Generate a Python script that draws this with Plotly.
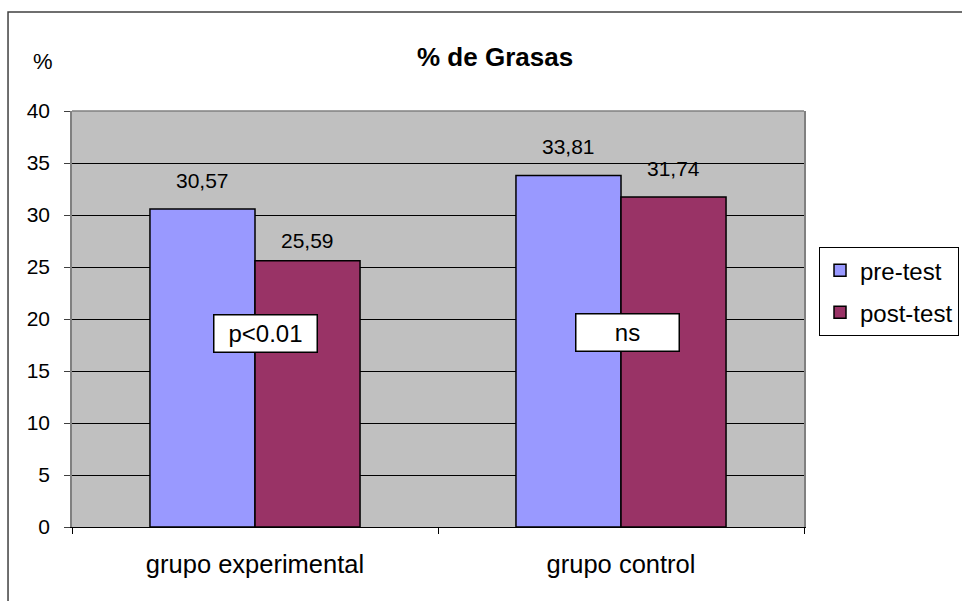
import plotly.graph_objects as go

categories = ["grupo experimental", "grupo control"]
pre_test = [30.57, 33.81]
post_test = [25.59, 31.74]
series_names = ["pre-test", "post-test"]
sig_labels = ["p<0.01", "ns"]
y_ticks = [0, 5, 10, 15, 20, 25, 30, 35, 40]

FONT = "Liberation Sans, Arial, sans-serif"
BARGAP = 0.426
bw = (1 - BARGAP) / 2
label_shift = [[15, 7], [15, 15]]  # pixel offsets of value labels (pre, post)

fig = go.Figure()
fig.add_trace(go.Bar(x=categories, y=pre_test, name=series_names[0],
                     marker=dict(color="#9999FF", line=dict(color="black", width=1.5))))
fig.add_trace(go.Bar(x=categories, y=post_test, name=series_names[1],
                     marker=dict(color="#993366", line=dict(color="black", width=1.5))))

annotations = []
for i in range(len(categories)):
    for j, (off, vals) in enumerate(((-bw / 2, pre_test), (bw / 2, post_test))):
        annotations.append(dict(x=i + off, y=vals[i], xref="x", yref="y",
                                text=f"{vals[i]:.2f}".replace(".", ","),
                                showarrow=False, xanchor="center", yanchor="bottom",
                                yshift=label_shift[i][j],
                                font=dict(family=FONT, size=21, color="black")))
sig_x = [0.03, 1.018]
sig_y = [18.65, 18.7]
for i, s in enumerate(sig_labels):
    annotations.append(dict(x=sig_x[i], y=sig_y[i], xref="x", yref="y", text=s,
                            showarrow=False, xanchor="center", yanchor="middle",
                            bgcolor="white", bordercolor="black",
                            borderwidth=1.5, width=100, height=34, borderpad=1,
                            font=dict(family=FONT, size=24, color="black")))
annotations.append(dict(x=0.578, y=1.13, xref="paper", yref="paper", text="<b>% de Grasas</b>",
                        showarrow=False, xanchor="center", yanchor="middle",
                        font=dict(family=FONT, size=26, color="black")))
annotations.append(dict(x=-0.0396, y=1.118, xref="paper", yref="paper", text="%",
                        showarrow=False, xanchor="center", yanchor="middle",
                        font=dict(family=FONT, size=22, color="black")))

fig.update_layout(
    width=962, height=601, autosize=False,
    margin=dict(l=72, r=158, t=111, b=74, pad=0, autoexpand=False),
    paper_bgcolor="white", plot_bgcolor="#C0C0C0",
    bargap=BARGAP, bargroupgap=0, barmode="group",
    font=dict(family=FONT, color="black"),
    annotations=annotations,
    legend=dict(x=1.0205, y=0.673, xanchor="left", yanchor="top",
                bordercolor="black", borderwidth=1, bgcolor="white",
                font=dict(family=FONT, size=24, color="black"),
                tracegroupgap=8, itemwidth=30),
    shapes=[
        dict(type="rect", xref="paper", yref="paper", x0=-0.0874, x1=1.25, y0=-0.3, y1=1.238,
             line=dict(color="#404040", width=1.5), layer="above"),
        dict(type="line", xref="paper", yref="paper", x0=0, x1=1, y0=1, y1=1,
             line=dict(color="#808080", width=1.5), layer="above"),
    ],
)
fig.update_xaxes(type="category", tickson="boundaries", ticks="outside", ticklen=6,
                 tickcolor="black", showline=True, linecolor="black", linewidth=1,
                 tickfont=dict(family=FONT, size=25.5, color="black"), showgrid=False,
                 ticklabelstandoff=14)
fig.update_yaxes(range=[0, 40], tickvals=y_ticks, ticks="outside", ticklen=6,
                 tickcolor="#404040", showline=True, linecolor="#808080", linewidth=1.5,
                 mirror=True, showgrid=True, gridcolor="black", gridwidth=1,
                 zeroline=False, tickfont=dict(family=FONT, size=21, color="black"),
                 ticklabelstandoff=10)
for i, tr in enumerate(fig.data):
    tr.legendgroup = f"g{i}"

fig.write_html("out.html", config={"displayModeBar": False},
               post_script="document.body.style.margin='0';document.body.style.overflow='hidden';")
